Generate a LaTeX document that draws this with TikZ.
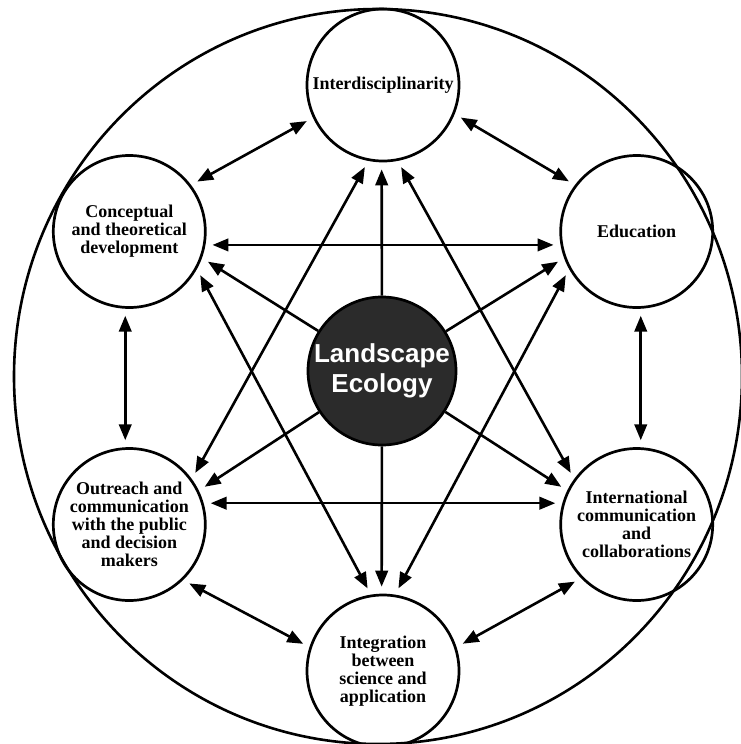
\documentclass[tikz,border=0pt]{standalone}
\usepackage{fontspec}
\setmainfont{Liberation Serif}
\newfontfamily\hubfont{Liberation Sans}
\usetikzlibrary{arrows.meta}

\tikzset{
  topic/.style={circle,draw,line width=2.7pt,minimum size=152pt,inner sep=0pt,align=center,
    font=\bfseries\fontsize{18}{18}\selectfont},
  hub/.style={circle,draw,fill=black!83,line width=2.7pt,minimum size=148pt,inner sep=0pt,
    align=center,text=white,font=\hubfont\bfseries\fontsize{26}{30}\selectfont},
  link/.style={<->,>={Triangle[length=16pt,width=12.5pt]},line width=2.6pt,
    shorten <=7pt,shorten >=7pt},
  spoke/.style={->,>={Triangle[length=16pt,width=12.5pt]},line width=2.6pt,shorten >=7pt}
}

\begin{document}
\begin{tikzpicture}[x=1pt,y=-1pt]
  \useasboundingbox (0,0) rectangle (741,744);
  \draw[line width=2.6pt] (378,376.5) ellipse [x radius=364pt,y radius=367.5pt];

  \node[topic] (inter) at (383,85) {Interdisciplinarity};
  \node[topic] (edu) at (636.7,231.5) {Education};
  \node[topic] (intl) at (636.7,524.5) {International\\communication\\and\\collaborations};
  \node[topic] (integ) at (383,671) {Integration\\between\\science and\\application};
  \node[topic] (outr) at (129.3,524.5) {Outreach and\\communication\\with the public\\and decision\\makers};
  \node[topic] (concept) at (129.3,231.5) {Conceptual\\and theoretical\\development};
  \node[hub] (land) at (382,371) {Landscape\\Ecology};

  \draw[link] (concept.37) -- (inter.205);
  \draw[link] (inter.-22) -- (edu.143);
  \draw[link] (edu.-87) -- (intl.87);
  \draw[link] (intl.224) -- (integ.18);
  \draw[link] (integ.162) -- (outr.-46);
  \draw[link] (outr.93) -- (concept.-93);

  \draw[link] (concept.-10) -- (edu.190);
  \draw[link] (outr.16) -- (intl.164);
  \draw[link] (inter.-101) -- (outr.36);
  \draw[link] (inter.-79) -- (intl.144);
  \draw[link] (concept.-29) -- (integ.99);
  \draw[link] (edu.209) -- (integ.81);

  \draw[spoke] (land) -- (inter.-91);
  \draw[spoke] (land) -- (integ.91);
  \draw[spoke] (land) -- (concept.-20);
  \draw[spoke] (land) -- (edu.200);
  \draw[spoke] (land) -- (outr.26);
  \draw[spoke] (land) -- (intl.154);
\end{tikzpicture}
\end{document}
